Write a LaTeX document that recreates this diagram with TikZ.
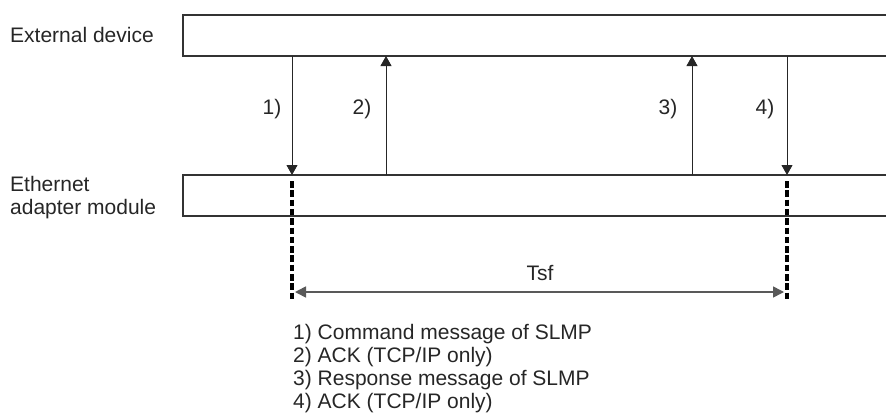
\documentclass[tikz,border=0pt]{standalone}
\usepackage{fontspec}
\setmainfont{Liberation Sans}
\usetikzlibrary{arrows.meta}
\tikzset{
  lane/.style={line width=1.6pt, draw=black!80},
  msg/.style={line width=0.9pt, draw=black!85, -{Triangle[width=11pt,length=10pt]}},
  span/.style={line width=1.6pt, draw=black!65, {Triangle[width=11pt,length=11pt]}-{Triangle[width=11pt,length=11pt]}},
  tsfline/.style={line width=3.5pt, dash pattern=on 6.5pt off 2.8pt},
  txt/.style={inner sep=0pt, text=black!85, font=\fontsize{21}{23}\selectfont, anchor=base}
}
\begin{document}
\begin{tikzpicture}[x=1pt,y=-1pt]
\useasboundingbox (0,0) rectangle (886,418);
% lanes
\draw[lane] (886,15) -| (183,56) -- (886,56);
\draw[lane] (886,175) -| (183,216) -- (886,216);
\node[txt, anchor=base west] (ext) at (10,42) {External device};
\node[txt, anchor=west, align=left] (eam) at (10,198) {Ethernet\\adapter module};
% messages
\coordinate (m1a) at (292,56);  \coordinate (m1b) at (292,175);
\coordinate (m2a) at (386,175); \coordinate (m2b) at (386,56);
\coordinate (m3a) at (692,175); \coordinate (m3b) at (692,56);
\coordinate (m4a) at (787,56);  \coordinate (m4b) at (787,175);
\draw[msg] (m1a) -- (m1b);
\draw[msg] (m2a) -- (m2b);
\draw[msg] (m3a) -- (m3b);
\draw[msg] (m4a) -- (m4b);
\node[txt] (l1) at (272,114) {1)};
\node[txt] (l2) at (362,114) {2)};
\node[txt] (l3) at (668,114) {3)};
\node[txt] (l4) at (765,114) {4)};
% Tsf
\coordinate (t1a) at (292,181); \coordinate (t1b) at (292,299);
\coordinate (t2a) at (787,181); \coordinate (t2b) at (787,299);
\draw[tsfline] (t1a) -- (t1b);
\draw[tsfline] (t2a) -- (t2b);
\coordinate (s1) at (295,292); \coordinate (s2) at (784,292);
\draw[span] (s1) -- (s2);
\node[txt] (tsf) at (540,280) {Tsf};
% legend
\node[txt, anchor=base west] (k1) at (293,339) {1) Command message of SLMP};
\node[txt, anchor=base west] (k2) at (293,362) {2) ACK (TCP/IP only)};
\node[txt, anchor=base west] (k3) at (293,385) {3) Response message of SLMP};
\node[txt, anchor=base west] (k4) at (293,408) {4) ACK (TCP/IP only)};
\end{tikzpicture}
\end{document}
